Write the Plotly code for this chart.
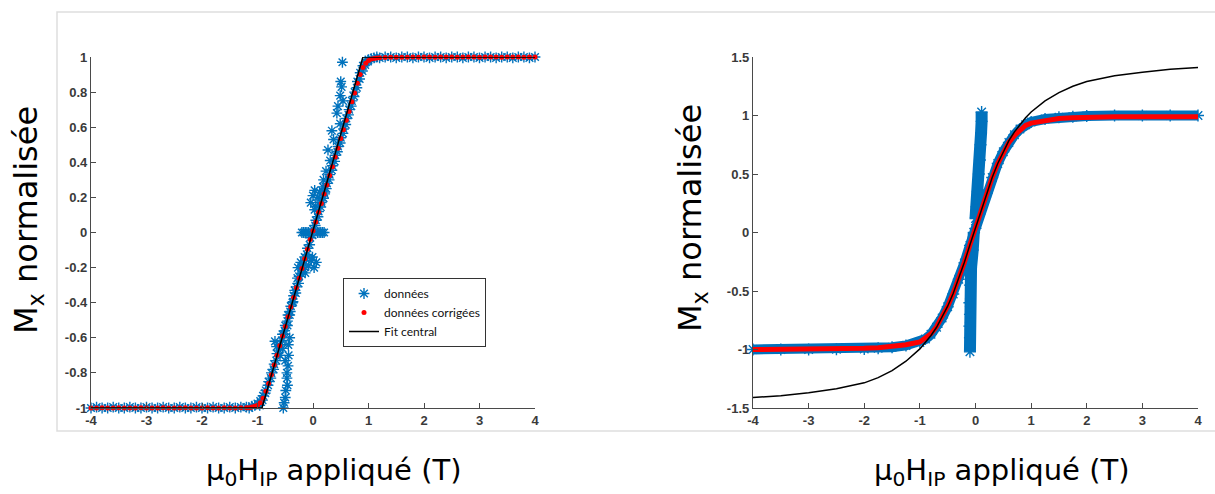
import plotly.graph_objects as go

# ---------------- data : left panel ----------------
left_fit_x = [-4.0, -0.92, 0.90, 4.0]
left_fit_y = [-1.0, -1.0, 1.0, 1.0]

left_x_low = [-4.0, -3.9, -3.8, -3.7, -3.6, -3.5, -3.4, -3.3, -3.2, -3.1, -3.0, -2.9, -2.8, -2.7, -2.6,
              -2.5, -2.4, -2.3, -2.2, -2.1, -2.0, -1.9, -1.8, -1.7, -1.6, -1.5, -1.4, -1.3, -1.2]
left_x_high = [1.2, 1.3, 1.4, 1.5, 1.6, 1.7, 1.8, 1.9, 2.0, 2.1, 2.2, 2.3, 2.4, 2.5, 2.6, 2.7, 2.8,
               2.9, 3.0, 3.1, 3.2, 3.3, 3.4, 3.5, 3.6, 3.7, 3.8, 3.9, 4.0]
left_x_ramp = [-1.15, -1.10, -1.05, -1.00, -0.95, -0.90, -0.85, -0.80, -0.75, -0.70, -0.65, -0.60,
               -0.55, -0.50, -0.45, -0.40, -0.35, -0.30, -0.25, -0.20, -0.15, -0.10, -0.05, 0.00,
               0.05, 0.10, 0.15, 0.20, 0.25, 0.30, 0.35, 0.40, 0.45, 0.50, 0.55, 0.60, 0.65, 0.70,
               0.75, 0.80, 0.85, 0.90, 0.95, 1.00, 1.05, 1.10, 1.15]

left_corr_low = [-1.0, -1.0, -0.998, -1.0, -1.0, -0.998, -1.0, -1.0, -1.0, -0.998, -1.0, -1.0, -1.0,
                 -0.998, -1.0, -1.0, -1.0, -0.998, -1.0, -1.0, -1.0, -0.998, -1.0, -1.0, -0.998,
                 -1.0, -1.0, -0.998, -0.999]
left_corr_high = [0.996, 0.997, 0.998, 0.998, 0.999, 0.999, 1.0, 0.999, 1.0, 1.0, 0.999, 1.0, 1.0,
                  1.0, 0.999, 1.0, 1.0, 1.0, 0.999, 1.0, 1.0, 1.0, 0.999, 1.0, 1.0, 1.0, 0.999, 1.0, 1.0]
left_corr_ramp = [-0.998, -0.995, -0.99, -0.985, -0.97, -0.945, -0.905, -0.86, -0.81, -0.755, -0.70,
                  -0.645, -0.59, -0.535, -0.48, -0.425, -0.37, -0.315, -0.26, -0.205, -0.15, -0.095,
                  -0.04, 0.01, 0.06, 0.115, 0.165, 0.22, 0.27, 0.325, 0.375, 0.43, 0.48, 0.535, 0.585,
                  0.64, 0.69, 0.745, 0.795, 0.85, 0.90, 0.94, 0.965, 0.98, 0.988, 0.992, 0.995]

left_data_low = [-1.0, -0.995, -1.0, -1.0, -0.995, -1.0, -1.0, -0.995, -1.0, -1.0, -0.995, -1.0,
                 -1.0, -0.995, -1.0, -1.0, -0.995, -1.0, -1.0, -0.995, -1.0, -1.0, -0.995, -1.0,
                 -1.0, -0.995, -1.0, -0.995, -0.995]
left_data_high = [0.995, 1.0, 1.0, 0.995, 1.0, 1.0, 0.995, 1.0, 1.0, 0.995, 1.0, 1.0, 0.995, 1.0,
                  1.0, 0.995, 1.0, 1.0, 0.995, 1.0, 1.0, 0.995, 1.0, 1.0, 0.995, 1.0, 1.0, 0.995, 1.0]
left_data_ramp = [-1.0, -0.99, -0.985, -0.975, -0.96, -0.93, -0.9, -0.85, -0.8, -0.75, -0.69, -0.64,
                  -0.58, -0.53, -0.47, -0.42, -0.36, -0.31, -0.25, -0.2, -0.14, -0.09, -0.03, 0.02,
                  0.07, 0.12, 0.17, 0.23, 0.28, 0.33, 0.38, 0.44, 0.49, 0.54, 0.59, 0.65, 0.7, 0.75,
                  0.8, 0.86, 0.91, 0.95, 0.97, 0.985, 0.99, 0.995, 1.0]
# second row of raw points along the ramp (slightly right of the first)
left_x_ramp2 = [-0.96, -0.91, -0.86, -0.81, -0.76, -0.71, -0.66, -0.61, -0.56, -0.51, -0.46, -0.41,
                -0.36, -0.31, -0.26, -0.21, -0.16, -0.11, -0.06, -0.01, 0.04, 0.09, 0.14, 0.19,
                0.24, 0.29, 0.34, 0.39, 0.44, 0.49, 0.54, 0.59, 0.64, 0.69, 0.74, 0.79, 0.84, 0.89,
                0.94, 0.99]
left_data_ramp2 = [-0.985, -0.955, -0.915, -0.87, -0.83, -0.78, -0.73, -0.67, -0.615, -0.56, -0.505,
                   -0.45, -0.395, -0.345, -0.29, -0.235, -0.18, -0.125, -0.07, -0.015, 0.04, 0.09,
                   0.145, 0.195, 0.25, 0.30, 0.355, 0.405, 0.46, 0.51, 0.565, 0.615, 0.67, 0.72,
                   0.775, 0.825, 0.875, 0.92, 0.955, 0.975]

# outlying raw measurements (données) around the switching
left_out_x = [-0.535, -0.52, -0.50, -0.49, -0.46, -0.47, -0.47, -0.45, -0.50, -0.44, -0.595, -0.655,
              -0.685, -0.445, -0.42, -0.55,
              -0.20, -0.17, -0.14, -0.11, -0.08, 0.08, 0.11, 0.14, 0.17, 0.20,
              -0.27, -0.22, -0.17, -0.12, -0.08, -0.03, 0.02, 0.06, -0.14, -0.01,
              -0.04, 0.00, 0.03, 0.05, 0.09, 0.12, 0.15, 0.18, 0.03, 0.21,
              0.19, 0.235, 0.31, 0.27, 0.37, 0.34, 0.49, 0.43, 0.54, 0.49, 0.515, 0.53, 0.50, 0.45,
              -0.28, -0.33, -0.37, -0.42, -0.46, -0.52]
left_out_y = [-1.0, -0.97, -0.94, -0.90, -0.87, -0.83, -0.80, -0.76, -0.73, -0.70, -0.70, -0.65,
              -0.62, -0.64, -0.60, -0.66,
              0.0, 0.0, 0.0, 0.0, 0.0, 0.0, 0.0, 0.0, 0.0, 0.0,
              -0.20, -0.17, -0.21, -0.15, -0.19, -0.16, -0.20, -0.17, -0.23, -0.14,
              0.17, 0.21, 0.24, 0.15, 0.20, 0.23, 0.18, 0.26, 0.13, 0.22,
              0.30, 0.35, 0.41, 0.47, 0.53, 0.58, 0.62, 0.68, 0.75, 0.78, 0.83, 0.97, 0.86, 0.72,
              -0.26, -0.33, -0.40, -0.47, -0.53, -0.58]

# ---------------- data : right panel ----------------
right_x = [-4.0, -3.5, -3.0, -2.5, -2.0, -1.75, -1.5, -1.25, -1.0, -0.9, -0.8, -0.7, -0.6, -0.5,
           -0.4, -0.3, -0.2, -0.1, 0.0, 0.1, 0.2, 0.3, 0.4, 0.5, 0.6, 0.7, 0.8, 0.9, 1.0, 1.25,
           1.5, 1.75, 2.0, 2.5, 3.0, 3.5, 4.0]
right_fit_y = [-1.41, -1.395, -1.37, -1.335, -1.285, -1.24, -1.18, -1.10, -0.995, -0.94, -0.88,
               -0.81, -0.725, -0.63, -0.52, -0.395, -0.255, -0.105, 0.04, 0.19, 0.335, 0.47, 0.59,
               0.695, 0.785, 0.86, 0.925, 0.98, 1.03, 1.125, 1.195, 1.25, 1.29, 1.34, 1.37, 1.395, 1.41]
right_corr_y = [-1.0, -1.0, -0.995, -0.993, -0.99, -0.985, -0.975, -0.96, -0.935, -0.905, -0.865,
                -0.805, -0.725, -0.63, -0.52, -0.395, -0.255, -0.105, 0.04, 0.19, 0.335, 0.47, 0.59,
                0.69, 0.77, 0.83, 0.88, 0.915, 0.935, 0.96, 0.975, 0.98, 0.985, 0.99, 0.99, 0.99, 0.99]
right_data_y = [-1.0, -1.0, -1.0, -0.998, -0.995, -0.99, -0.98, -0.965, -0.94, -0.91, -0.87,
                -0.81, -0.73, -0.635, -0.525, -0.40, -0.26, -0.11, 0.035, 0.19, 0.335, 0.47,
                0.59, 0.69, 0.77, 0.835, 0.885, 0.92, 0.945, 0.97, 0.985, 0.99, 0.995, 1.0, 1.0,
                1.0, 1.0]
right_spike_low_x = [-0.10, -0.10, -0.11, -0.10, -0.11, -0.10, -0.08, -0.05, -0.03]
right_spike_low_y = [-1.02, -0.90, -0.80, -0.70, -0.60, -0.45, -0.30, -0.15, 0.0]
right_spike_high_x = [0.0, 0.02, 0.04, 0.06, 0.08, 0.09, 0.10, 0.11, 0.11]
right_spike_high_y = [0.12, 0.22, 0.35, 0.50, 0.62, 0.75, 0.85, 0.95, 1.03]

# ---------------- ticks ----------------
x_tickvals = [-4, -3, -2, -1, 0, 1, 2, 3, 4]
x_ticktext = ["-4", "-3", "-2", "-1", "0", "1", "2", "3", "4"]
left_y_tickvals = [-1, -0.8, -0.6, -0.4, -0.2, 0, 0.2, 0.4, 0.6, 0.8, 1]
left_y_ticktext = ["-1", "-0.8", "-0.6", "-0.4", "-0.2", "0", "0.2", "0.4", "0.6", "0.8", "1"]
right_y_tickvals = [-1.5, -1, -0.5, 0, 0.5, 1, 1.5]
right_y_ticktext = ["-1.5", "-1", "-0.5", "0", "0.5", "1", "1.5"]


def bold(labels):
    return ["<b>" + t + "</b>" for t in labels]


BLUE = "#0072BD"
RED = "#FF0000"

fig = go.Figure()

star = dict(symbol="asterisk-open", size=9, color=BLUE, line=dict(color=BLUE, width=1.4))

# left panel
left_data_x = left_x_low + left_x_ramp + left_x_ramp2 + left_x_high + left_out_x
left_data_y = left_data_low + left_data_ramp + left_data_ramp2 + left_data_high + left_out_y
fig.add_trace(go.Scatter(x=left_data_x, y=left_data_y, mode="markers", marker=star,
                         name="données", xaxis="x", yaxis="y", cliponaxis=False))
left_corr_x = left_x_low + left_x_ramp + left_x_high
left_corr_yv = left_corr_low + left_corr_ramp + left_corr_high
fig.add_trace(go.Scatter(x=left_corr_x, y=left_corr_yv, mode="markers",
                         marker=dict(symbol="circle", size=5, color=RED),
                         name="données corrigées", xaxis="x", yaxis="y", cliponaxis=False))
fig.add_trace(go.Scatter(x=left_fit_x, y=left_fit_y, mode="lines",
                         line=dict(color="black", width=1.5),
                         name="Fit central", xaxis="x", yaxis="y", cliponaxis=False))

# right panel
big_star = dict(star, size=10)
fig.add_trace(go.Scatter(x=right_x, y=right_data_y, mode="lines+markers",
                         line=dict(color=BLUE, width=10), marker=big_star,
                         showlegend=False, xaxis="x2", yaxis="y2", cliponaxis=False))
fig.add_trace(go.Scatter(x=right_spike_low_x, y=right_spike_low_y, mode="lines+markers",
                         line=dict(color=BLUE, width=12), marker=big_star,
                         showlegend=False, xaxis="x2", yaxis="y2", cliponaxis=False))
fig.add_trace(go.Scatter(x=right_spike_high_x, y=right_spike_high_y, mode="lines+markers",
                         line=dict(color=BLUE, width=12), marker=big_star,
                         showlegend=False, xaxis="x2", yaxis="y2", cliponaxis=False))
fig.add_trace(go.Scatter(x=right_x, y=right_corr_y, mode="lines",
                         line=dict(color=RED, width=5),
                         showlegend=False, xaxis="x2", yaxis="y2", cliponaxis=False))
fig.add_trace(go.Scatter(x=right_x, y=right_fit_y, mode="lines",
                         line=dict(color="black", width=1.5),
                         showlegend=False, xaxis="x2", yaxis="y2", cliponaxis=False))

W, H = 1215, 494
tickfont = dict(family="Liberation Sans", size=13, color="#3a3a3a")
axis_common = dict(showline=True, linecolor="#4a4a4a", linewidth=1.3, ticks="inside", ticklen=5,
                   tickcolor="#4a4a4a", tickwidth=1, showgrid=False, zeroline=False,
                   tickfont=tickfont, automargin=False, fixedrange=True)

y_dom = [1 - 408 / H, 1 - 57 / H]
fig.update_layout(
    width=W, height=H, margin=dict(l=0, r=0, t=0, b=0),
    template="none", paper_bgcolor="white", plot_bgcolor="white",
    xaxis=dict(axis_common, domain=[91 / W, 535 / W], range=[-4, 4], anchor="y",
               tickvals=x_tickvals, ticktext=bold(x_ticktext)),
    yaxis=dict(axis_common, domain=y_dom, range=[-1, 1], anchor="x",
               tickvals=left_y_tickvals, ticktext=bold(left_y_ticktext)),
    xaxis2=dict(axis_common, domain=[753 / W, 1198 / W], range=[-4, 4], anchor="y2",
                tickvals=x_tickvals, ticktext=bold(x_ticktext)),
    yaxis2=dict(axis_common, domain=y_dom, range=[-1.5, 1.5], anchor="x2",
                tickvals=right_y_tickvals, ticktext=bold(right_y_ticktext)),
    showlegend=True,
    legend=dict(x=343 / W, y=1 - 278 / H, xanchor="left", yanchor="top",
                bgcolor="white", bordercolor="#333333", borderwidth=1,
                font=dict(family="Lato", size=12, color="#111111"),
                tracegroupgap=0, itemwidth=30),
    shapes=[dict(type="rect", xref="paper", yref="paper", x0=57 / W, x1=1.01,
                 y0=1 - 431 / H, y1=1 - 12 / H, line=dict(color="#dedede", width=1.5),
                 layer="below")],
)

title_font_y = dict(family="DejaVu Sans", size=32, color="black")
title_font_x = dict(family="DejaVu Sans", size=29, color="black")
fig.add_annotation(text="M<sub>x</sub> normalisée", xref="paper", yref="paper",
                   x=28 / W, y=1 - 220 / H, textangle=-90, showarrow=False,
                   font=title_font_y, xanchor="center", yanchor="middle")
fig.add_annotation(text="M<sub>x</sub> normalisée", xref="paper", yref="paper",
                   x=692 / W, y=1 - 218 / H, textangle=-90, showarrow=False,
                   font=title_font_y, xanchor="center", yanchor="middle")
fig.add_annotation(text="μ<sub>0</sub>H<sub>IP</sub> appliqué (T)", xref="paper", yref="paper",
                   x=334 / W, y=1 - 472 / H, showarrow=False, font=title_font_x,
                   xanchor="center", yanchor="middle")
fig.add_annotation(text="μ<sub>0</sub>H<sub>IP</sub> appliqué (T)", xref="paper", yref="paper",
                   x=1002 / W, y=1 - 472 / H, showarrow=False, font=title_font_x,
                   xanchor="center", yanchor="middle")

fig.write_html("out.html", config={"displayModeBar": False},
               post_script="document.body.style.margin='0';document.body.style.overflow='hidden';")
